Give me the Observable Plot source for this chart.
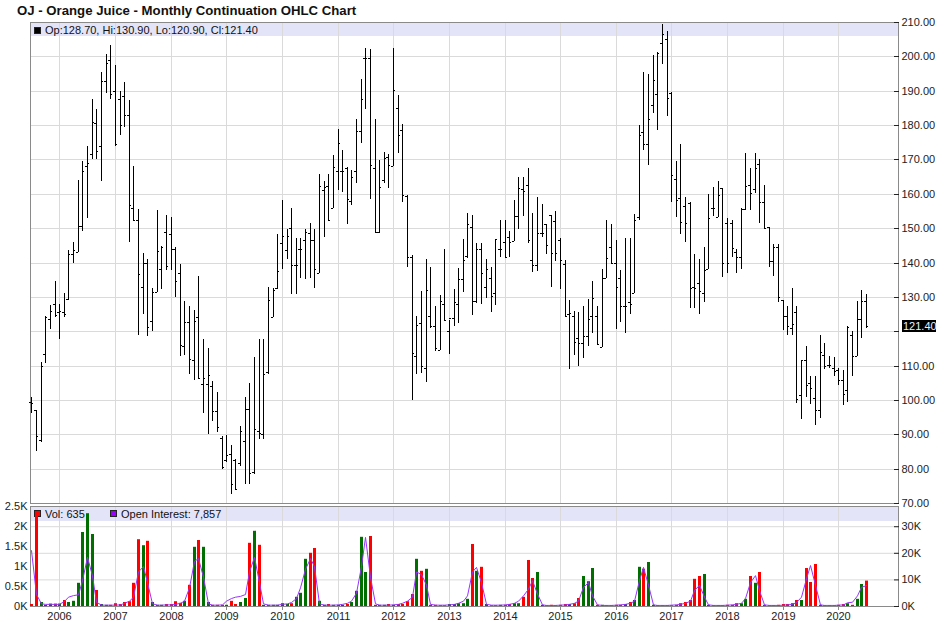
<!DOCTYPE html>
<html>
<head>
<meta charset="utf-8">
<script src="https://cdn.jsdelivr.net/npm/d3@7"></script>
<script src="https://cdn.jsdelivr.net/npm/@observablehq/plot@0.6"></script>
<style>
  html, body { margin: 0; padding: 0; background: #fff; }
  #wrap { position: relative; width: 946px; height: 622px; overflow: hidden; font-family: "Liberation Sans", Arial, sans-serif; }
  #title { position: absolute; left: 17px; top: 1px; line-height: 20px; font-size: 13.2px; font-weight: bold; color: #111; white-space: nowrap; }
  #price { position: absolute; left: 0; top: 20px; }
  .lower { position: absolute; left: 0; top: 504px; }
</style>
</head>
<body>
<div id="wrap">
  <div id="title">OJ - Orange Juice - Monthly Continuation OHLC Chart</div>
  <div id="price"></div>
  <div id="lowerBase" class="lower"></div>
  <div id="lowerVol" class="lower"></div>
  <div id="lowerOI" class="lower"></div>
</div>
<script>
// ---------------- data (monthly bars, July 2005 .. July 2020) ----------------
const firstYear = 2005;
const firstMonth = 6; // July (0-based month index)

const open = [
  99.4, 97, 88.2, 113.4, 123.6, 127.9,
  125.7, 125.5, 129.3, 142.5, 143, 150.7, 168, 171.7, 180.6, 173.9, 192.8, 199,
  189.8, 187.5, 188.5, 182.9, 155.8, 152.4, 133, 139.8, 123, 131.3, 138, 149,
  148.3, 144, 136.9, 115.8, 122.8, 111.5, 124, 104.6, 104.7, 104, 96.9, 89,
  82.5, 84.4, 82.5, 81.7, 88, 97.5, 79, 91, 90, 108, 124, 132.5,
  145.6, 143.6, 150, 139.3, 143.9, 146.6, 148.5, 146.6, 136.9, 161, 162.4, 156,
  166.7, 166.6, 167.6, 157.9, 166.7, 178.2, 199.6, 199.6, 167.4, 148.8, 164, 170.8,
  168.2, 185.1, 178.5, 159.3, 141.5, 112.9, 122.4, 109.3, 124.3, 121.4, 114.6, 128,
  120, 123.8, 128, 135.1, 141.9, 150.2, 128.8, 143.9, 132.8, 135.6, 131.1, 144,
  145.9, 147.3, 146.4, 153.6, 161.3, 162.5, 140.8, 139.3, 148.7, 151.2, 153.8, 152.1,
  146.6, 139.6, 125, 124.3, 118, 116.7, 118.5, 124.3, 124.3, 115.5, 135.4, 144.6,
  140, 135.4, 127.4, 128.4, 131.1, 153.3, 178, 174.6, 185.8, 189, 203.9, 205,
  189.3, 164.2, 158.9, 156.4, 157.4, 132.8, 134, 131.1, 138, 155.8, 153.3, 161.6,
  151.4, 151.4, 143.2, 141.5, 155.5, 162.5, 161.3, 168.8, 157.7, 150.4, 140.5, 144.6,
  129.1, 124.5, 120.9, 125.7, 101.3, 111.7, 104.9, 100.6, 97.2, 113.2, 110.3, 109.3,
  108.8, 105.9, 103, 119, 112.7, 123.5, 128.7
];
const high = [
  100.8, 97.2, 110.9, 124.5, 127.7, 134.7,
  128, 131, 143.5, 146, 164, 169.6, 173.9, 187.5, 184.8, 195.5, 200.8, 203.2,
  197.4, 189.8, 192.4, 187.2, 168.2, 155.6, 142.7, 141, 132.5, 155.3, 144.8, 153.8,
  153.3, 144.5, 139.5, 128.8, 127.4, 126.2, 136.1, 117.8, 115.1, 105.4, 102.2, 89.6,
  89.7, 87, 82.7, 92.5, 100.8, 105, 112.4, 117.7, 117.7, 133, 132.7, 148.3,
  158.2, 149.8, 155.8, 147, 147, 149.8, 151.4, 149.7, 165.9, 163.7, 165.9, 171.4,
  178.8, 172.7, 167.9, 166.9, 181.7, 193.5, 202.5, 202.2, 181.9, 169.8, 172.2, 171.7,
  202.5, 188.7, 180.4, 159.6, 142.2, 124.3, 131.6, 141, 138.6, 127.2, 130.6, 144,
  123.3, 132.2, 138.3, 146.8, 154.3, 153.8, 145.6, 145.8, 141, 138.8, 146.8, 152.4,
  152.4, 149.2, 158.2, 165, 165, 167.6, 154.5, 159.1, 157, 151.2, 153.8, 155,
  147, 140.8, 129.1, 126, 125.5, 127.2, 129.3, 134.7, 127.2, 138, 152.4, 151.2,
  146.6, 137.7, 147, 147, 154.1, 180, 195.5, 195, 200.5, 201.3, 209.3, 207.3,
  189.6, 169.5, 174.6, 159.1, 157.7, 142.4, 141, 144.4, 159.9, 162.1, 163.7, 161.6,
  152.9, 152.4, 143.9, 155.8, 172, 167.4, 171.9, 170, 162.5, 150.4, 145.4, 145.4,
  129.1, 127.2, 132.7, 127.2, 111.7, 115.6, 107.1, 107.1, 119, 116.6, 112.7, 112.5,
  109.3, 108.8, 121.6, 120.2, 128.9, 132, 130.9
];
const low = [
  96.2, 85.1, 87.7, 110.7, 120.7, 124,
  117.8, 124.1, 129.1, 139.8, 143, 149.3, 153, 170, 170.1, 163.8, 189.2, 187.5,
  173.9, 177.2, 179.3, 145.9, 152.4, 119, 125, 118.5, 120, 131.3, 132.2, 137.7,
  137.7, 130.1, 112.7, 113, 107.5, 105.7, 106.4, 96.2, 90.1, 94, 90.7, 80,
  82, 72.5, 73.8, 80.7, 75.6, 75.6, 78.3, 88.7, 88.7, 107.5, 124, 132.2,
  138, 141, 130.8, 130.8, 135.4, 135.1, 135.4, 132.7, 136.9, 147.5, 152.4, 156,
  161, 160.6, 151.1, 156.7, 163, 174.8, 184.8, 158.4, 148.8, 148.5, 163, 161.6,
  168.2, 171.9, 157.7, 138.6, 100.1, 107.6, 107.8, 105.2, 120.9, 114.1, 114.6, 123.3,
  113.4, 121.6, 122.4, 131.3, 141.2, 124.8, 128.2, 127.9, 129.8, 125.7, 127.5, 141.7,
  141.5, 141.7, 146.4, 149.8, 153.6, 145.8, 137.1, 137.4, 147.5, 142.4, 132.8, 140.3,
  132.2, 124.3, 109, 113, 109.8, 112.2, 115.8, 119.5, 116.4, 115.3, 135.4, 140,
  120.6, 122.8, 119.5, 125, 131.1, 152.4, 172.7, 168.5, 183.5, 178.7, 197.9, 182.6,
  157.7, 153.3, 148.2, 146.1, 126.7, 126.7, 125, 128.4, 138, 153.6, 153.3, 135.9,
  136.9, 141.5, 136.9, 138, 155.3, 155.3, 160.3, 151.4, 150, 138.8, 136.2, 128.4,
  120.4, 119, 119, 99.1, 94.5, 100.8, 98.9, 92.8, 94.6, 109.1, 109.3, 106.9,
  104.3, 98.4, 99.3, 106.9, 112.7, 118, 120.9
];
const close = [
  99, 89.6, 110, 124, 126, 124.7,
  126, 125, 142.5, 143.7, 150.7, 166.6, 169, 181, 172.4, 192.8, 198, 188.9,
  174.6, 180, 182.9, 156.7, 152.4, 136.7, 139.8, 121.2, 131.3, 143.3, 144.6, 139.1,
  144, 134.7, 116.1, 122.8, 111.9, 123, 106.4, 106.4, 107.4, 96.9, 92, 80.5,
  84.1, 75.5, 74, 91, 97.5, 78.8, 91.4, 90.4, 107.5, 129, 132, 137.5,
  147.6, 147.6, 139.3, 139.3, 143.9, 148.8, 146.6, 138.1, 162.4, 162, 152.4, 167.9,
  174.8, 166.6, 158.4, 165, 178.2, 187.7, 199.6, 168.5, 148.8, 162, 170.5, 168.3,
  190.3, 177, 159.6, 141.5, 113.6, 121.9, 109.8, 132, 121.4, 115, 128.7, 123.3,
  123.8, 128.4, 135.1, 140.6, 151.2, 128.7, 143.9, 136.9, 138, 130.3, 146.8, 144,
  141.7, 146, 153.6, 161.6, 160.8, 146.6, 139.3, 148.7, 148.7, 145, 142.7, 142.7,
  140.8, 124.3, 125.2, 117, 116.7, 118.5, 123.6, 129.6, 116.4, 135.4, 141.2, 140,
  133, 127.2, 127.4, 128, 152.4, 177, 174.6, 181.9, 193.2, 201.1, 206.4, 188,
  165.5, 158.2, 151.9, 151.4, 132.7, 132.5, 131.6, 137.7, 152.9, 155.8, 159.6, 140,
  140, 144.3, 141.5, 155.5, 162.2, 160.1, 167.4, 157.7, 150, 140.5, 144.6, 129.9,
  124.5, 121.4, 122.2, 100.3, 111.5, 104.2, 103.5, 97.2, 114, 109.8, 110.1, 108.3,
  105.9, 101.8, 121.2, 112.7, 123.5, 128.7, 121.4
];
const volume = [
  50, 2270, 100, 30, 60, 60,
  60, 150, 100, 130, 580, 1850, 2320, 1800, 400, 50, 30, 30,
  70, 50, 100, 120, 580, 1670, 1520, 1630, 100, 30, 30, 50,
  50, 120, 80, 130, 530, 1480, 1650, 1480, 100, 30, 30, 30,
  30, 130, 50, 100, 200, 1580, 1880, 1530, 30, 30, 30, 30,
  70, 50, 70, 230, 330, 1180, 1330, 1450, 130, 30, 50, 30,
  30, 30, 50, 100, 380, 1730, 850, 1750, 30, 30, 30, 50,
  30, 50, 50, 120, 300, 1180, 880, 930, 30, 30, 20, 20,
  50, 50, 70, 70, 180, 1550, 880, 980, 50, 20, 20, 30,
  30, 50, 70, 70, 230, 1150, 700, 850, 30, 20, 30, 20,
  30, 50, 50, 70, 200, 750, 620, 950, 30, 30, 20, 20,
  30, 30, 50, 100, 150, 980, 930, 1100, 30, 20, 20, 20,
  20, 30, 70, 100, 150, 680, 750, 800, 30, 20, 20, 20,
  30, 30, 70, 70, 180, 750, 580, 850, 30, 20, 20, 30,
  50, 50, 70, 150, 150, 950, 600, 1050, 30, 20, 20, 20,
  30, 50, 70, 30, 180, 550, 635
];
const openInterest = [
  21000, 4500, 1000, 800, 800, 800,
  800, 1900, 3500, 4100, 4400, 9700, 18500, 11500, 1600, 500, 500, 500,
  500, 600, 1200, 2000, 3500, 13000, 15000, 9000, 1000, 500, 500, 600,
  600, 800, 1200, 2000, 7000, 17000, 18000, 11000, 1000, 500, 500, 600,
  2000, 3000, 3500, 3800, 4500, 13000, 18500, 9000, 1000, 500, 500, 500,
  800, 1000, 1500, 3000, 7000, 14000, 18000, 15000, 1000, 500, 500, 500,
  600, 800, 1200, 2000, 5000, 15000, 26000, 11000, 1000, 500, 500, 500,
  600, 800, 1200, 2000, 3500, 13000, 12000, 8000, 800, 500, 500, 500,
  600, 800, 1200, 2000, 4000, 13000, 14700, 9000, 800, 500, 500, 500,
  600, 800, 1200, 2000, 4000, 6500, 9700, 4700, 600, 400, 400, 400,
  500, 600, 800, 1200, 2000, 7200, 9000, 4000, 600, 400, 400, 400,
  500, 600, 800, 1200, 2000, 9700, 14700, 8000, 600, 400, 400, 400,
  500, 600, 800, 1200, 2000, 6000, 8000, 3500, 600, 400, 400, 400,
  500, 600, 800, 1200, 3000, 9000, 11600, 6000, 600, 400, 400, 400,
  500, 600, 800, 1500, 3500, 10400, 15400, 8000, 600, 400, 400, 400,
  500, 600, 1400, 1600, 4000, 7200, 7857
];
const yearLabels = [2006, 2007, 2008, 2009, 2010, 2011, 2012, 2013, 2014, 2015, 2016, 2017, 2018, 2019, 2020];
const priceTicks = [70, 80, 90, 100, 110, 120, 130, 140, 150, 160, 170, 180, 190, 200, 210];
const volumeTicks = [0, 500, 1000, 1500, 2000, 2500];
const oiTicks = [0, 10000, 20000, 30000];

// ---------------- build table ----------------
const bars = open.map((o, i) => ({
  date: new Date(Date.UTC(firstYear, firstMonth + i, 1)),
  open: o, high: high[i], low: low[i], close: close[i],
  volume: volume[i], oi: openInterest[i],
  dir: close[i] >= o ? "up" : "down"
}));
const yearDates = yearLabels.map(y => new Date(Date.UTC(y, 0, 1)));
const last = bars[bars.length - 1];

// ---------------- shared settings ----------------
const W = 946;
const FONT = "'Liberation Sans', Arial, sans-serif";
const baseStyle = {background: "transparent", fontFamily: FONT, fontSize: "11px", color: "#222", overflow: "visible"};
const xScale = {type: "utc", domain: [new Date(Date.UTC(2005, 5, 22)), new Date(Date.UTC(2021, 0, 27))], round: true, axis: null};
const margins = {marginLeft: 30, marginRight: 48};
const GRID = "#dadada";
const FRAME = "#8a8a8a";
const BAND = "#e4e4f9";

function band(h) {
  return (index, scales, values, dims) => {
    const g = d3.create("svg:g");
    g.append("rect")
      .attr("x", dims.marginLeft).attr("y", dims.marginTop)
      .attr("width", dims.width - dims.marginLeft - dims.marginRight)
      .attr("height", h).attr("fill", BAND);
    return g.node();
  };
}

function legend(items, top, baseline) {
  return (index, scales, values, dims) => {
    const g = d3.create("svg:g").attr("font-family", FONT).attr("font-size", 11).attr("text-anchor", "start");
    for (const it of items) {
      g.append("rect")
        .attr("x", it.x + 0.5).attr("y", dims.marginTop + top + 0.5)
        .attr("width", 6).attr("height", 6)
        .attr("fill", it.color).attr("stroke", "#222").attr("stroke-width", 1);
      g.append("text")
        .attr("x", it.x + 11).attr("y", dims.marginTop + baseline)
        .attr("text-anchor", "start")
        .attr("fill", "#111").text(it.label);
    }
    return g.node();
  };
}

const f2 = d3.format(".2f");
const fInt = d3.format(",");

// ---------------- price panel ----------------
const lastPriceBox = (index, scales, values, dims) => {
  const y = scales.y(last.close);
  const g = d3.create("svg:g").attr("font-family", FONT).attr("font-size", 11).attr("text-anchor", "start");
  const x0 = dims.width - dims.marginRight + 4;
  g.append("rect").attr("x", x0).attr("y", y - 6).attr("width", 34).attr("height", 12).attr("fill", "#000");
  g.append("text").attr("x", x0 + 1).attr("y", y + 4).attr("text-anchor", "start").attr("fill", "#e8f2ff").text(f2(last.close));
  return g.node();
};

const price = Plot.plot({
  width: W, height: 485, ...margins, marginTop: 2, marginBottom: 2,
  style: baseStyle,
  x: xScale,
  y: {domain: [70, 210], axis: null, round: true},
  marks: [
    band(14),
    Plot.gridY(priceTicks, {stroke: GRID, strokeOpacity: 1}),
    Plot.gridX(yearDates, {stroke: GRID, strokeOpacity: 1}),
    Plot.frame({stroke: FRAME}),
    Plot.ruleX(bars, {x: "date", y1: "low", y2: "high", stroke: "#000"}),
    Plot.ruleY(bars, {x1: "date", x2: "date", y: "open", insetLeft: -2, stroke: "#000"}),
    Plot.ruleY(bars, {x1: "date", x2: "date", y: "close", insetRight: -2, stroke: "#000"}),
    Plot.axisY(priceTicks, {
      anchor: "right", tickSize: 5, dx: -5, tickPadding: 3, color: "#222", label: null,
      tickFormat: d => Math.abs(d - last.close) < 5 ? "" : f2(d)
    }),
    lastPriceBox,
    legend([{x: 34, color: "#000", label: `Op:${f2(last.open)}, Hi:${f2(last.high)}, Lo:${f2(last.low)}, Cl:${f2(last.close)}`}], 5, 12)
  ]
});
document.getElementById("price").append(price);

// ---------------- lower panel ----------------
const lowerDims = {width: W, height: 118, ...margins, marginTop: 2, marginBottom: 16};
const oiMax = 37600;

const lowerBase = Plot.plot({
  ...lowerDims,
  style: baseStyle,
  x: xScale,
  y: {domain: [0, oiMax], axis: null},
  marks: [
    band(15),
    Plot.gridY(oiTicks.filter(d => d > 0), {stroke: GRID, strokeOpacity: 1}),
    Plot.gridX(yearDates, {stroke: GRID, strokeOpacity: 1}),
    Plot.frame({stroke: FRAME}),
    Plot.axisY(oiTicks, {anchor: "right", tickSize: 5, dx: -5, tickPadding: 3, color: "#222", label: null, tickFormat: d => d / 1000 + "K"}),
    Plot.axisX(yearDates, {anchor: "bottom", tickSize: 4, tickPadding: 2, stroke: FRAME, fill: "#222", label: null, tickFormat: d3.utcFormat("%Y")}),
    legend([
      {x: 34, color: "#ff0000", label: `Vol: ${fInt(last.volume)}`},
      {x: 110, color: "#9900ff", label: `Open Interest: ${fInt(last.oi)}`}
    ], 4, 12)
  ]
});
document.getElementById("lowerBase").append(lowerBase);

const lowerVol = Plot.plot({
  ...lowerDims,
  style: baseStyle,
  x: xScale,
  y: {domain: [0, 2500], axis: null},
  color: {domain: ["up", "down"], range: ["#006e00", "#ff0000"]},
  marks: [
    Plot.ruleX(bars, {x: "date", y1: 0, y2: "volume", stroke: "dir", strokeWidth: 3}),
    Plot.axisY(volumeTicks, {anchor: "left", tickSize: 0, tickPadding: 3, color: "#222", label: null, tickFormat: d => d / 1000 + "K"})
  ]
});
document.getElementById("lowerVol").append(lowerVol);

const lowerOI = Plot.plot({
  ...lowerDims,
  style: baseStyle,
  x: xScale,
  y: {domain: [0, oiMax], axis: null},
  marks: [
    Plot.line(bars, {x: "date", y: "oi", stroke: "#9933ff", strokeWidth: 1})
  ]
});
document.getElementById("lowerOI").append(lowerOI);
</script>
</body>
</html>
